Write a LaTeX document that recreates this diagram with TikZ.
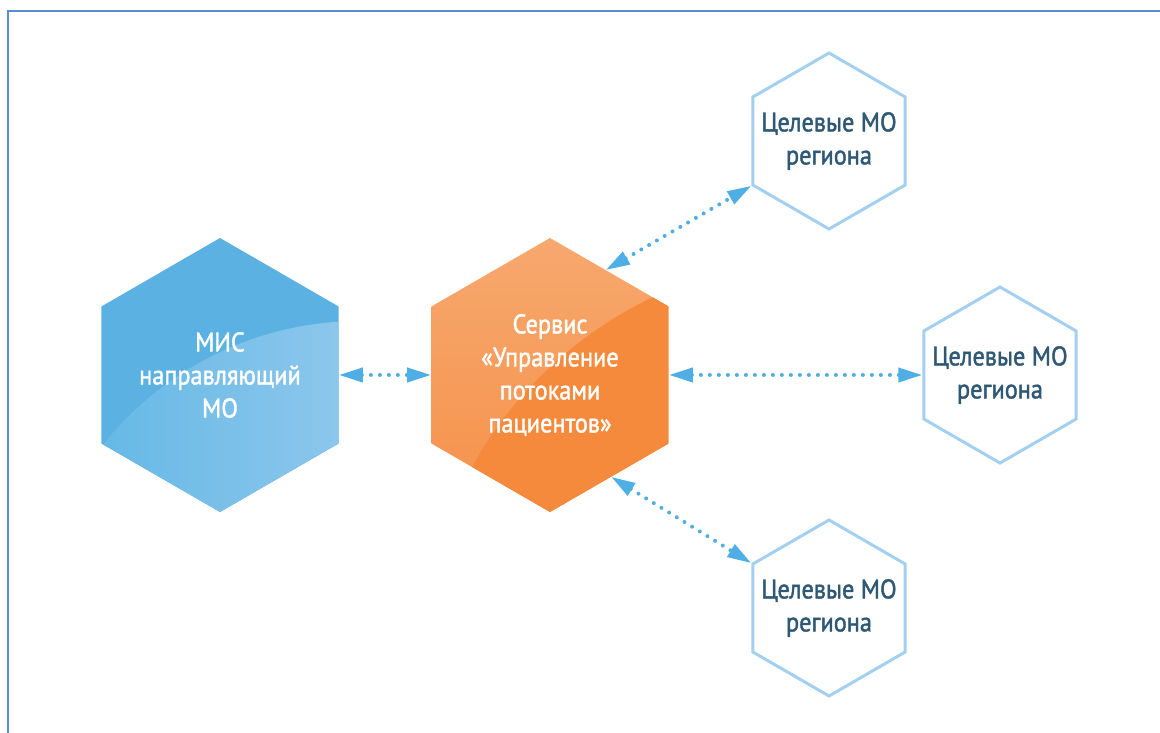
\documentclass[tikz,border=0pt]{standalone}
\usepackage{fontspec}
\setmainfont{PT Sans}
\newfontfamily\hexfont[FakeStretch=0.9,FakeBold=1.5]{PT Sans}
\usetikzlibrary{shapes.geometric,arrows.meta}

\definecolor{misblue}{HTML}{5AB1E2}
\definecolor{misglossa}{HTML}{66B9E6}
\definecolor{misglossb}{HTML}{8CC6EC}
\definecolor{servlight}{HTML}{F7A86F}
\definecolor{servmid}{HTML}{F5924A}
\definecolor{servdark}{HTML}{F58A3C}
\definecolor{moline}{HTML}{A3CFF0}
\definecolor{motext}{HTML}{2E5873}
\definecolor{linkblue}{HTML}{4FAEE4}
\definecolor{framecol}{HTML}{5B8BD0}

\begin{document}
\begin{tikzpicture}[
  x=1pt,y=-1pt,
  hexbase/.style={
    regular polygon,
    regular polygon sides=6,
    shape border rotate=30,
    inner sep=-45pt,
    align=center,
    font=\hexfont\fontsize{27}{33}\selectfont,
    },
  mishex/.style={
    hexbase,
    minimum size=274pt,
    fill=misblue,
    text=white,
    path picture={
      \begin{scope}
        \clip ([xshift=140pt,yshift=-275pt]path picture bounding box.center)
          circle[radius=329pt];
        \shade[left color=misglossa,right color=misglossb]
          (path picture bounding box.south west) rectangle
          (path picture bounding box.north east);
      \end{scope}
      },
    },
  servhex/.style={
    hexbase,
    minimum size=274pt,
    text=white,
    path picture={
      \shade[top color=servlight,bottom color=servmid]
        (path picture bounding box.south west) rectangle
        (path picture bounding box.north east);
      \fill[servdark]
        ([xshift=277pt,yshift=-289pt]path picture bounding box.center)
        circle[radius=406pt];
      },
    },
  mohex/.style={
    hexbase,
    minimum size=176pt,
    draw=moline,
    line width=3pt,
    text=motext,
    },
  link/.style={
    draw=linkblue,
    line width=4pt,
    line cap=round,
    dash pattern=on 0pt off 9pt,
    {Triangle[length=24pt,width=14pt]}-{Triangle[length=24pt,width=14pt]},
    },
  ]
  \useasboundingbox (0,0) rectangle (1160,733);
  \clip (0,0) rectangle (1160,733);

  % frame
  \draw[framecol,line width=2pt]
    (1170,11) -- (8,11) -- (8,745);

  % hexagons
  \node[mishex] (mis) at (220,375) {МИС\\направляющий\\МО};
  \node[servhex] (serv) at (550,375)
    {Сервис\\«Управление\\потоками\\пациентов»};
  \node[mohex] (mo1) at (829,141) {Целевые МО\\региона};
  \node[mohex] (mo2) at (1000,375) {Целевые МО\\региона};
  \node[mohex] (mo3) at (829,608) {Целевые МО\\региона};

  % links
  \draw[link] (mis.0) -- (serv.180);
  \draw[link] (serv.62) -- (mo1.210);
  \draw[link] (serv.0) -- (mo2.180);
  \draw[link] (serv.-59) -- (mo3.150);
\end{tikzpicture}
\end{document}
